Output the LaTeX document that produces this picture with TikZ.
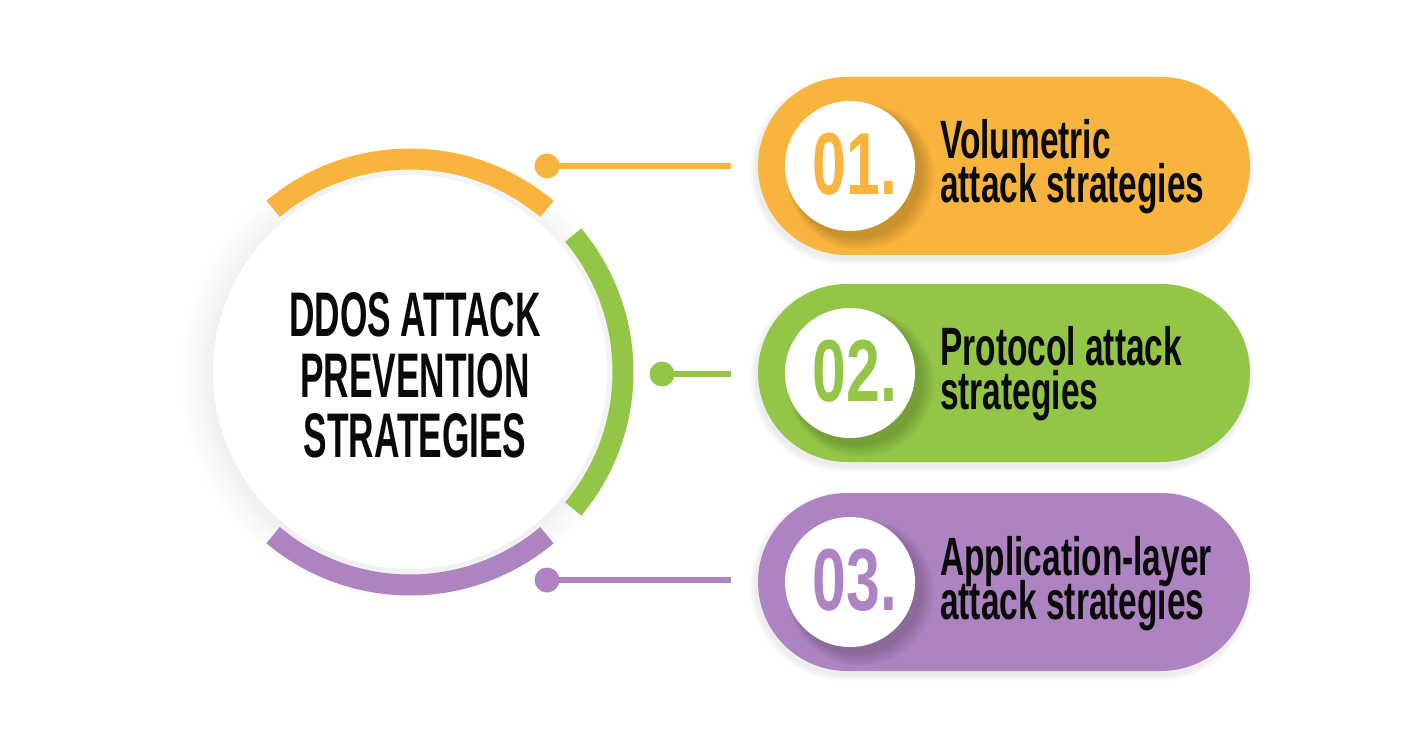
\documentclass[tikz,border=0pt]{standalone}
\usepackage{fontspec}
\newfontfamily\titlefont[FakeStretch=0.56]{Liberation Sans}
\newfontfamily\lblfont[FakeStretch=0.62]{Liberation Sans}
\newfontfamily\numfont[FakeStretch=0.69]{Liberation Sans}
\definecolor{cor}{HTML}{F9B43D}
\definecolor{cgr}{HTML}{93C647}
\definecolor{cpu}{HTML}{AE83C1}
\definecolor{txt}{HTML}{0A0A0A}
\begin{document}
\begin{tikzpicture}[x=1pt,y=1pt,
  titletxt/.style={font=\titlefont\bfseries\fontsize{63}{63}\selectfont, anchor=base, inner sep=0, text=txt},
  lbl/.style={font=\lblfont\bfseries\fontsize{54}{54}\selectfont, anchor=base west, inner sep=0, text=txt},
  numtxt/.style={font=\numfont\bfseries\fontsize{88}{88}\selectfont, inner sep=0},
  pill/.style={rectangle, rounded corners=89pt, minimum width=492pt, minimum height=178pt, inner sep=0, fill=#1},
  numdisc/.style={circle, minimum size=130pt, inner sep=0, fill=white},
  dotnode/.style={circle, minimum size=25pt, inner sep=0, fill=#1},
  link/.style={line width=6pt, #1},
  ring/.style={line width=21pt, #1}
]
\useasboundingbox (0,0) rectangle (1424,748);
\fill[white] (0,0) rectangle (1424,748);

% soft shadow of the main disc
\foreach \k in {1,...,14}{
  \fill[black, opacity=0.005] (408,373) circle ({196+2.2*\k});
}
\node[circle, minimum size=394pt, inner sep=0, fill=white] (main) at (410,376) {};

% rings
\draw[ring=cor] ([shift={(50:213)}]main.center) arc (50:130:213);
\draw[ring=cgr] ([shift={(-40:213)}]main.center) arc (-40:40:213);
\draw[ring=cpu] ([shift={(230:213)}]main.center) arc (230:310:213);

% title
\node[titletxt] (t1) at (415,411) {DDOS ATTACK};
\node[titletxt] (t2) at (415,351) {PREVENTION};
\node[titletxt] (t3) at (415,291) {STRATEGIES};

% pill shadows
\foreach \yc in {582,375,166}{
  \foreach \k in {1,...,6}{
    \fill[black, opacity=0.010, rounded corners={89+\k}] ({758-\k-2},{\yc-89-\k-4}) rectangle ({1250+\k-2},{\yc+89+\k-4});
  }
}

% pills
\node[pill=cor] (p1) at (1004,582) {};
\node[pill=cgr] (p2) at (1004,375) {};
\node[pill=cpu] (p3) at (1004,166) {};

% number disc shadows
\foreach \yc in {582,375,166}{
  \foreach \k in {1,...,8}{
    \fill[black, opacity=0.022] ({856+\k*0.6},{\yc-7-\k*0.4}) circle ({64+\k*1.2});
  }
}

% number discs
\node[numdisc] (n1) at (850,582) {};
\node[numdisc] (n2) at (850,375) {};
\node[numdisc] (n3) at (850,166) {};
\node[numtxt, text=cor] (k1) at (855,584) {01.};
\node[numtxt, text=cgr] (k2) at (855,377) {02.};
\node[numtxt, text=cpu] (k3) at (855,168) {03.};

% labels
\node[lbl] (a1) at (940,589) {Volumetric};
\node[lbl] (b1) at (940,545) {attack strategies};
\node[lbl] (a2) at (940,382) {Protocol attack};
\node[lbl] (b2) at (940,338) {strategies};
\node[lbl] (a3) at (940,173) {Application-layer};
\node[lbl] (b3) at (940,129) {attack strategies};

% connectors
\node[dotnode=cor] (d1) at (547,582) {};
\node[dotnode=cgr] (d2) at (662,374) {};
\node[dotnode=cpu] (d3) at (547,168) {};
\coordinate (e1) at (731,582);
\coordinate (e2) at (731,374);
\coordinate (e3) at (731,168);
\draw[link=cor] (d1.center) -- (e1);
\draw[link=cgr] (d2.center) -- (e2);
\draw[link=cpu] (d3.center) -- (e3);
\end{tikzpicture}
\end{document}
